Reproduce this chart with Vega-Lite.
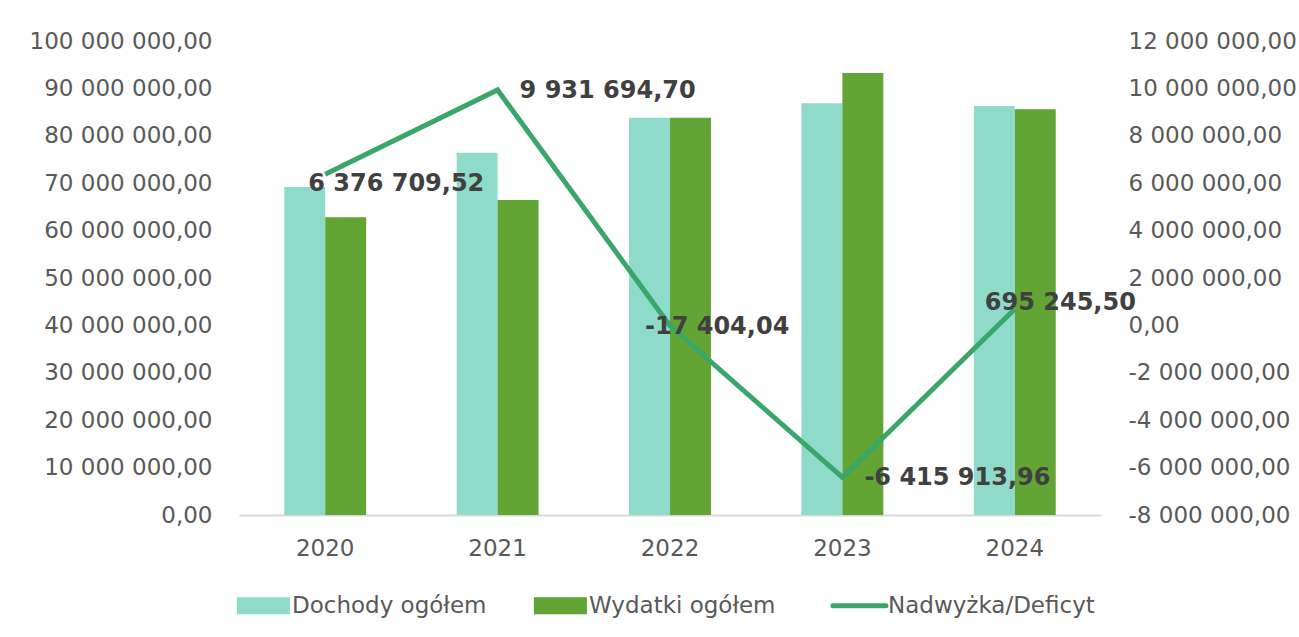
{
  "$schema": "https://vega.github.io/schema/vega-lite/v6.json",
  "width": 862,
  "height": 474,
  "autosize": "none",
  "padding": {"left": 239, "top": 41, "right": 198, "bottom": 122},
  "background": "white",
  "config": {
    "locale": {"number": {"decimal": ",", "thousands": " ", "grouping": [3], "currency": ["", ""], "minus": "-"}},
    "view": {"stroke": null},
    "font": "DejaVu Sans",
    "axis": {"labelFont": "DejaVu Sans", "labelFontSize": 23, "labelColor": "#595959", "grid": false, "ticks": false, "title": null, "labelLimit": 400}
  },
  "datasets": {
    "bars": [
      {"year": "2020", "series": "Dochody ogółem", "value": 69200000},
      {"year": "2020", "series": "Wydatki ogółem", "value": 62823290},
      {"year": "2021", "series": "Dochody ogółem", "value": 76400000},
      {"year": "2021", "series": "Wydatki ogółem", "value": 66468305},
      {"year": "2022", "series": "Dochody ogółem", "value": 83800000},
      {"year": "2022", "series": "Wydatki ogółem", "value": 83817404},
      {"year": "2023", "series": "Dochody ogółem", "value": 86850000},
      {"year": "2023", "series": "Wydatki ogółem", "value": 93265914},
      {"year": "2024", "series": "Dochody ogółem", "value": 86300000},
      {"year": "2024", "series": "Wydatki ogółem", "value": 85604754}
    ],
    "saldo": [
      {"year": "2020", "saldo": 6376709.52},
      {"year": "2021", "saldo": 9931694.70},
      {"year": "2022", "saldo": -17404.04},
      {"year": "2023", "saldo": -6415913.96},
      {"year": "2024", "saldo": 695245.50}
    ]
  },
  "layer": [
    {
      "data": {"name": "bars"},
      "mark": {"type": "bar"},
      "encoding": {
        "x": {
          "field": "year", "type": "ordinal",
          "scale": {"paddingInner": 0.525, "paddingOuter": 0.2625},
          "axis": {"orient": "bottom", "labelAngle": 0, "domain": true, "domainColor": "#d9d9d9", "domainWidth": 2, "labelPadding": 22}
        },
        "xOffset": {"field": "series", "type": "nominal", "scale": {"domain": ["Dochody ogółem", "Wydatki ogółem"], "paddingInner": 0, "paddingOuter": 0}},
        "y": {
          "field": "value", "type": "quantitative",
          "scale": {"domain": [0, 100000000], "nice": false},
          "axis": {"orient": "left", "values": [0, 10000000, 20000000, 30000000, 40000000, 50000000, 60000000, 70000000, 80000000, 90000000, 100000000], "format": ",.2f", "domain": false, "labelPadding": 27}
        },
        "color": {
          "field": "series", "type": "nominal",
          "scale": {"domain": ["Dochody ogółem", "Wydatki ogółem", "Nadwyżka/Deficyt"], "range": ["#8fdbca", "#62a535", "#3aa66b"]},
          "legend": {
            "orient": "bottom", "direction": "horizontal", "title": null,
            "labelFont": "DejaVu Sans", "labelFontSize": 23, "labelColor": "#595959", "labelLimit": 400,
            "symbolSize": 289, "labelOffset": 30, "columnPadding": 46, "offset": 34,
            "encode": {
              "symbols": {
                "update": {
                  "shape": {"signal": "datum.value === 'Nadwyżka/Deficyt' ? 'M-1.6,0H4.64' : 'M-1.6,-1H4.64V1H-1.6Z'"},
                  "fill": {"signal": "datum.value === 'Nadwyżka/Deficyt' ? 'transparent' : scale('color', datum.value)"},
                  "stroke": {"signal": "scale('color', datum.value)"},
                  "strokeWidth": {"signal": "datum.value === 'Nadwyżka/Deficyt' ? 5 : 0"},
                  "strokeCap": {"value": "round"},
                  "opacity": {"value": 1}
                }
              }
            }
          }
        }
      }
    },
    {
      "data": {"name": "saldo"},
      "layer": [
        {
          "mark": {"type": "line", "strokeWidth": 5},
          "encoding": {
            "x": {"field": "year", "type": "ordinal"},
            "y": {
              "field": "saldo", "type": "quantitative",
              "scale": {"domain": [-8000000, 12000000], "nice": false},
              "axis": {"orient": "right", "values": [-8000000, -6000000, -4000000, -2000000, 0, 2000000, 4000000, 6000000, 8000000, 10000000, 12000000], "format": ",.2f", "domain": false, "labelPadding": 27}
            },
            "color": {"datum": "Nadwyżka/Deficyt", "type": "nominal"}
          }
        },
        {
          "mark": {
            "type": "text", "font": "DejaVu Sans", "fontWeight": "bold", "fontSize": 24, "color": "#404040",
            "align": "left", "baseline": "middle",
            "dx": {"expr": "datum.year == '2021' || datum.year == '2023' ? 22 : datum.year == '2020' ? -17 : datum.year == '2022' ? -25 : -30"},
            "dy": {"expr": "datum.year == '2020' ? 10 : datum.year == '2024' ? -6 : 1"}
          },
          "encoding": {
            "x": {"field": "year", "type": "ordinal"},
            "y": {"field": "saldo", "type": "quantitative"},
            "text": {"field": "saldo", "type": "quantitative", "format": ",.2f"}
          }
        }
      ]
    }
  ],
  "resolve": {"scale": {"y": "independent"}}
}
